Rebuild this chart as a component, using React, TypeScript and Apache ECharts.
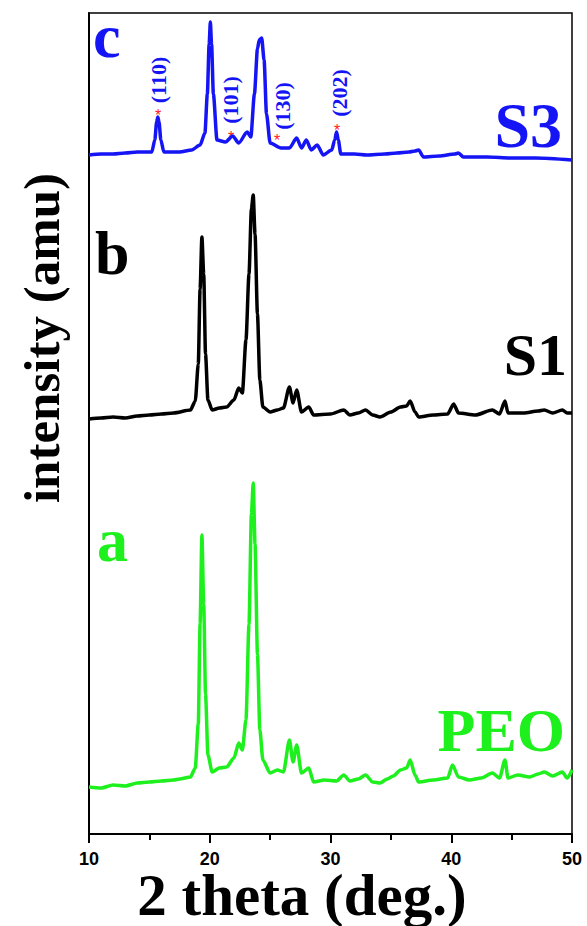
import React, { useEffect, useRef } from "react";
import * as echarts from "echarts";

const xTicks = [10, 20, 30, 40, 50];

// [2theta, intensity (arbitrary, offset stacked)]
const peoData: [number, number][] = [
  [10, 47], [11, 46], [12, 49], [13, 48], [14, 51], [15, 52], [16, 53], [17, 54], [17.5, 55], [18.4, 57],
  [18.8, 66], [19.05, 110], [19.2, 210], [19.35, 299], [19.5, 230], [19.65, 140], [19.85, 79], [20.2, 62],
  [20.8, 66], [21.4, 67], [22.0, 76], [22.4, 91], [22.7, 84], [23.0, 114], [23.25, 210], [23.45, 320],
  [23.6, 351], [23.75, 290], [23.95, 180], [24.15, 104], [24.4, 74], [25.0, 61], [25.6, 64], [26.1, 62],
  [26.6, 94], [26.9, 72], [27.2, 89], [27.6, 61], [28.2, 66], [28.6, 52], [29.5, 54], [30.5, 53],
  [31.1, 59], [31.6, 53], [32.3, 55], [32.9, 59], [33.5, 52], [34.1, 51], [34.7, 55], [35.2, 58],
  [35.8, 64], [36.3, 66], [36.6, 74], [37.0, 59], [37.3, 52], [38.5, 54], [39.7, 56], [40.1, 69],
  [40.6, 57], [41.5, 54], [42.5, 56], [43.4, 61], [44.0, 56], [44.45, 74], [44.7, 56], [45.5, 59],
  [46.5, 57], [47.2, 60], [47.7, 62], [48.4, 58], [49.2, 62], [49.6, 56], [50, 64],
];

const s1Data: [number, number][] = [
  [10, 415], [11, 416], [12, 417], [13, 416], [14, 418], [15, 419], [16, 420], [17, 421], [18.4, 424],
  [18.8, 433], [19.05, 470], [19.2, 545], [19.35, 597], [19.5, 560], [19.65, 480], [19.85, 434], [20.2, 424],
  [20.8, 426], [21.4, 427], [22.0, 434], [22.4, 446], [22.7, 441], [23.0, 494], [23.25, 560], [23.45, 625],
  [23.6, 639], [23.75, 600], [23.95, 520], [24.15, 454], [24.4, 427], [25.0, 422], [25.6, 424], [26.1, 426],
  [26.6, 447], [26.9, 431], [27.2, 444], [27.6, 422], [28.2, 427], [28.6, 419], [30.0, 420], [31.1, 424],
  [31.6, 419], [32.3, 421], [32.9, 424], [33.5, 419], [34.1, 417], [35.0, 422], [35.8, 427], [36.3, 428],
  [36.6, 433], [37.0, 422], [37.3, 417], [38.5, 419], [39.7, 420], [40.2, 430], [40.6, 421], [42, 419],
  [43.4, 424], [44.0, 420], [44.45, 433], [44.7, 421], [46, 421], [47.2, 423], [47.7, 424], [48.4, 421],
  [49.2, 424], [49.6, 421], [50, 421],
];

const s3Data: [number, number][] = [
  [10, 679], [11, 680], [12, 680], [13, 681], [14, 682], [15.2, 682], [15.45, 694], [15.6, 712], [15.7, 717],
  [15.8, 712], [15.95, 694], [16.2, 682], [17.5, 682], [18.5, 684], [19.2, 689], [19.6, 701], [19.8, 740],
  [19.95, 790], [20.05, 812], [20.15, 790], [20.3, 740], [20.6, 694], [21.3, 692], [21.9, 698], [22.4, 691],
  [23.1, 702], [23.4, 697], [23.7, 740], [23.95, 785], [24.1, 794], [24.3, 796], [24.5, 774], [24.7, 720],
  [25.0, 691], [25.9, 686], [26.6, 686], [27.2, 696], [27.6, 686], [28.0, 694], [28.4, 684], [28.9, 689],
  [29.4, 679], [30.1, 684], [30.35, 694], [30.5, 702], [30.65, 694], [30.85, 680], [32, 680], [33, 679],
  [34.5, 680], [35.5, 681], [36.5, 682], [37.0, 683], [37.3, 684], [37.7, 677], [39, 678], [40.3, 680],
  [40.6, 681], [41, 677], [43, 677], [45, 676], [47, 676], [50, 674],
];

const millerLabels = ["(110)", "(101)", "(130)", "(202)"];
const sampleNames = ["PEO", "S1", "S3"];
const panelLetters = ["a", "b", "c"];

const BLUE = "#1414f5";
const GREEN = "#1ef01e";
const BLACK = "#000000";
const SERIF = "'Liberation Serif', 'Times New Roman', serif";
const SANS = "'Liberation Sans', Arial, sans-serif";

export default function App() {
  const ref = useRef<HTMLDivElement>(null);
  useEffect(() => {
    if (!ref.current) return;
    const chart = echarts.init(ref.current, undefined, { renderer: "svg" });
    const bigText = (text: string, x: number, y: number, color: string, size: number, align = "left") => ({
      type: "text",
      x,
      y,
      style: {
        text,
        fill: color,
        font: `bold ${size}px ${SERIF}`,
        lineHeight: Math.round(size * 0.8),
        textAlign: align,
        textVerticalAlign: "middle",
      },
    });
    const millerPos = [
      [158, 80],
      [230, 100],
      [282, 106],
      [339, 93],
    ];
    const starPos = [
      [158, 115],
      [231, 137],
      [277, 140],
      [337, 130],
    ];
    chart.setOption({
      animation: false,
      backgroundColor: "#ffffff",
      grid: { left: 89, right: 15, top: 13, bottom: 92, show: true, borderColor: "#000", borderWidth: 1.5 },
      xAxis: {
        type: "value",
        min: xTicks[0],
        max: xTicks[xTicks.length - 1],
        interval: 10,
        axisLine: { show: true, lineStyle: { color: "#000", width: 2 } },
        axisTick: { show: true, inside: false, length: 9, lineStyle: { color: "#000", width: 2 } },
        minorTick: { show: true, splitNumber: 2, length: 6, lineStyle: { color: "#000", width: 2 } },
        splitLine: { show: false },
        axisLabel: { color: "#000", fontFamily: SANS, fontWeight: "bold", fontSize: 18, margin: 16 },
      },
      yAxis: {
        type: "value",
        min: 0,
        max: 821,
        axisLine: { show: true, lineStyle: { color: "#000", width: 2 } },
        axisTick: { show: false },
        axisLabel: { show: false },
        splitLine: { show: false },
      },
      series: [
        { name: sampleNames[0], type: "line", data: peoData, showSymbol: false, smooth: 0.25, smoothMonotone: "x", lineStyle: { color: GREEN, width: 3.5 } },
        { name: sampleNames[1], type: "line", data: s1Data, showSymbol: false, smooth: 0.25, smoothMonotone: "x", lineStyle: { color: BLACK, width: 3.5 } },
        { name: sampleNames[2], type: "line", data: s3Data, showSymbol: false, smooth: 0.25, smoothMonotone: "x", lineStyle: { color: BLUE, width: 3.5 } },
      ],
      graphic: [
        bigText(panelLetters[2], 93, 36, BLUE, 62),
        bigText(panelLetters[1], 95, 253, BLACK, 62),
        bigText(panelLetters[0], 97, 540, GREEN, 62),
        bigText(sampleNames[2], 562, 125, BLUE, 64, "right"),
        bigText(sampleNames[1], 567, 355, BLACK, 60, "right"),
        bigText(sampleNames[0], 565, 730, GREEN, 62, "right"),
        ...millerLabels.map((t, i) => ({
          type: "text",
          x: millerPos[i][0],
          y: millerPos[i][1],
          rotation: Math.PI / 2,
          style: { text: t, fill: BLUE, font: `bold 22px ${SERIF}`, textAlign: "center", textVerticalAlign: "middle" },
        })),
        ...starPos.map((p) => ({
          type: "text",
          x: p[0],
          y: p[1],
          style: { text: "*", fill: "#ff2020", font: `16px ${SANS}`, textAlign: "center", textVerticalAlign: "middle" },
        })),
        {
          type: "text",
          x: 302,
          y: 895,
          style: {
            text: "2 theta (deg.)",
            fill: "#000",
            font: `bold 59px ${SERIF}`,
            lineHeight: 40,
            textAlign: "center",
            textVerticalAlign: "middle",
          },
        },
        {
          type: "text",
          x: 42,
          y: 338,
          rotation: Math.PI / 2,
          style: { text: "intensity (amu)", fill: "#000", font: `bold 51px ${SERIF}`, textAlign: "center", textVerticalAlign: "middle" },
        },
      ],
    });
    return () => chart.dispose();
  }, []);
  return <div ref={ref} style={{ position: "fixed", left: 0, top: 0, width: 587, height: 926, background: "#fff" }} />;
}
